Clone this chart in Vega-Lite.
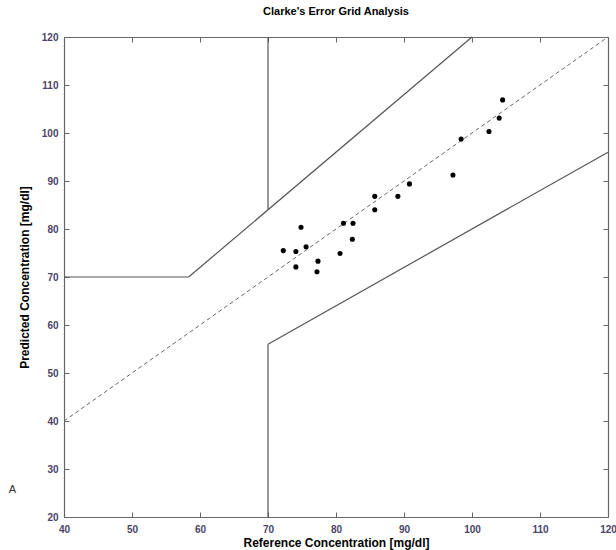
{
  "$schema": "https://vega.github.io/schema/vega-lite/v6.json",
  "width": 544,
  "height": 480,
  "autosize": {"type": "none"},
  "padding": {"left": 64, "top": 37, "right": 8, "bottom": 33},
  "background": "white",
  "title": {"text": "Clarke's Error Grid Analysis", "font": "Liberation Sans", "fontSize": 11, "fontWeight": "bold", "color": "#000000", "offset": 15, "anchor": "middle"},
  "config": {
    "view": {"stroke": null},
    "axis": {
      "grid": false,
      "domainColor": "#666666",
      "domainWidth": 1.2,
      "tickColor": "#666666",
      "tickSize": -5,
      "labelColor": "#4b4468",
      "labelFont": "Liberation Sans",
      "labelFontWeight": "bold",
      "labelFontSize": 10,
      "labelOverlap": false,
      "labelFlush": false,
      "labelBound": false,
      "titleFont": "Liberation Sans",
      "titleFontSize": 12,
      "titleFontWeight": "bold",
      "titleColor": "#000000"
    }
  },
  "datasets": {
    "zones": [
      {"x1": 40, "y1": 70, "x2": 58.33, "y2": 70},
      {"x1": 58.33, "y1": 70, "x2": 100, "y2": 120},
      {"x1": 70, "y1": 84, "x2": 70, "y2": 120},
      {"x1": 70, "y1": 20, "x2": 70, "y2": 56},
      {"x1": 70, "y1": 56, "x2": 120, "y2": 96}
    ],
    "diag": [{"x1": 40, "y1": 40, "x2": 120, "y2": 120}],
    "points": [
      {"ref": 104.5, "pred": 106.9},
      {"ref": 104.0, "pred": 103.1},
      {"ref": 102.5, "pred": 100.3},
      {"ref": 98.4, "pred": 98.75},
      {"ref": 97.2, "pred": 91.25},
      {"ref": 90.8, "pred": 89.4},
      {"ref": 89.1, "pred": 86.8},
      {"ref": 85.7, "pred": 86.8},
      {"ref": 85.7, "pred": 84.0},
      {"ref": 82.5, "pred": 81.2},
      {"ref": 81.1, "pred": 81.2},
      {"ref": 82.4, "pred": 77.85},
      {"ref": 80.6, "pred": 74.9},
      {"ref": 77.35, "pred": 73.3},
      {"ref": 77.2, "pred": 71.1},
      {"ref": 74.85, "pred": 80.35},
      {"ref": 75.6, "pred": 76.3},
      {"ref": 74.1, "pred": 75.3},
      {"ref": 72.25, "pred": 75.5},
      {"ref": 74.1, "pred": 72.1}
    ],
    "panel": [{"x": 32.4, "y": 25.6, "label": "A"}]
  },
  "layer": [
    {
      "data": {"name": "zones"},
      "mark": {"type": "rule", "color": "#555555", "strokeWidth": 1.2},
      "encoding": {
        "x": {"field": "x1", "type": "quantitative", "scale": {"domain": [40, 120], "nice": false, "zero": false},
              "axis": {"orient": "bottom", "values": [40, 50, 60, 70, 80, 90, 100, 110, 120], "title": "Reference Concentration [mg/dl]", "labelPadding": 12, "titlePadding": 3}},
        "y": {"field": "y1", "type": "quantitative", "scale": {"domain": [20, 120], "nice": false, "zero": false},
              "axis": {"orient": "left", "values": [20, 30, 40, 50, 60, 70, 80, 90, 100, 110, 120], "title": "Predicted Concentration [mg/dl]", "labelPadding": 11, "titlePadding": 10}},
        "x2": {"field": "x2"},
        "y2": {"field": "y2"}
      }
    },
    {
      "data": {"name": "diag"},
      "mark": {"type": "rule", "color": "#666666", "strokeWidth": 1, "strokeDash": [4, 3]},
      "encoding": {
        "x": {"field": "x1", "type": "quantitative", "axis": null},
        "y": {"field": "y1", "type": "quantitative", "axis": null},
        "x2": {"field": "x2"},
        "y2": {"field": "y2"}
      }
    },
    {
      "data": {"name": "points"},
      "mark": {"type": "circle", "color": "#000000", "opacity": 1, "size": 26},
      "encoding": {
        "x": {"field": "ref", "type": "quantitative",
              "axis": {"orient": "top", "values": [40, 50, 60, 70, 80, 90, 100, 110, 120], "labels": false, "title": null}},
        "y": {"field": "pred", "type": "quantitative",
              "axis": {"orient": "right", "values": [20, 30, 40, 50, 60, 70, 80, 90, 100, 110, 120], "labels": false, "title": null}}
      }
    },
    {
      "data": {"name": "panel"},
      "mark": {"type": "text", "font": "Liberation Sans", "fontSize": 11, "color": "#333333", "align": "center", "baseline": "middle"},
      "encoding": {
        "x": {"field": "x", "type": "quantitative", "axis": null},
        "y": {"field": "y", "type": "quantitative", "axis": null},
        "text": {"field": "label"}
      }
    }
  ],
  "resolve": {"axis": {"x": "independent", "y": "independent"}}
}
